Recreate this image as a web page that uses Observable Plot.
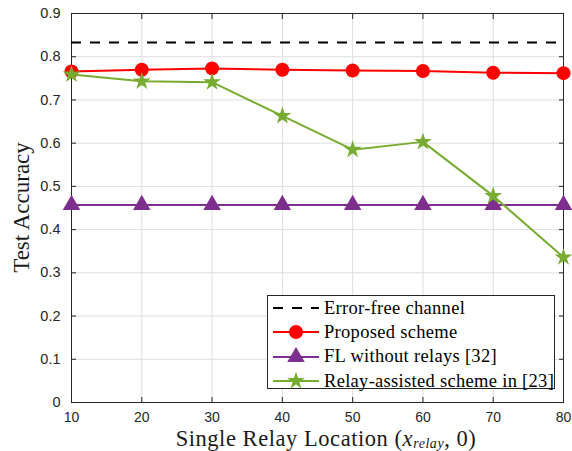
<!DOCTYPE html>
<html><head><meta charset="utf-8">
<script src="https://cdn.jsdelivr.net/npm/d3@7"></script>
<script src="https://cdn.jsdelivr.net/npm/@observablehq/plot@0.6"></script>
<style>
html,body{margin:0;padding:0;background:#fff;}
#wrap{position:relative;width:572px;height:451px;}
#legend{position:absolute;left:267px;top:295px;width:286px;height:92px;border:1px solid #262626;background:#fff;font-family:"Liberation Serif",serif;font-size:18.5px;letter-spacing:0.3px;color:#000;}
.row{position:absolute;left:0;height:24px;display:flex;align-items:center;white-space:nowrap;}
.row svg{display:block;margin-right:4px;}
</style></head><body><div id="wrap"></div>
<script>
// ---- data ----
const xRelay = [10, 20, 30, 40, 50, 60, 70, 80];
const errorFree = 0.833;
const proposed = [0.766, 0.770, 0.773, 0.770, 0.768, 0.767, 0.763, 0.762];
const withoutRelays = [0.457, 0.457, 0.457, 0.457, 0.457, 0.457, 0.457, 0.457];
const relayAssisted = [0.759, 0.743, 0.741, 0.663, 0.585, 0.603, 0.478, 0.336];
const xTicks = [10, 20, 30, 40, 50, 60, 70, 80];
const yTicks = [0, 0.1, 0.2, 0.3, 0.4, 0.5, 0.6, 0.7, 0.8, 0.9];
const seriesNames = ["Error-free channel", "Proposed scheme", "FL without relays [32]", "Relay-assisted scheme in [23]"];
const seriesColors = ["#000000", "#FF0000", "#7E2F8E", "#77AC30"];
const seriesSymbols = [null, "circle", "triangle", "star"];
const symbolR = [0, 7, 6.5, 5.6];
const yLabel = "Test Accuracy";

const rows = (vals) => xRelay.map((x, i) => ({x, y: vals[i]}));
const dataP = rows(proposed), dataW = rows(withoutRelays), dataR = rows(relayAssisted);

const fmt = d => d === 0 ? "0" : d.toFixed(1);

const plot = Plot.plot({
  width: 572, height: 451,
  marginLeft: 71, marginRight: 9, marginTop: 13, marginBottom: 49,
  style: {fontFamily: "'Liberation Sans', Arial, sans-serif", fontSize: "14px", color: "#262626", background: "#fff"},
  x: {domain: [10, 80], ticks: xTicks, label: null},
  y: {domain: [0, 0.9], ticks: yTicks, label: null},
  marks: [
    Plot.gridX(xTicks, {stroke: "#dedede", strokeOpacity: 1, strokeWidth: 1}),
    Plot.gridY(yTicks, {stroke: "#dedede", strokeOpacity: 1, strokeWidth: 1}),
    Plot.axisX(xTicks, {anchor: "bottom", tickSize: -5, tickPadding: 15, tickFormat: d => String(d), label: null, stroke: "#262626"}),
    Plot.axisX(xTicks, {anchor: "top", tickSize: -5, tickFormat: () => "", label: null, stroke: "#262626"}),
    Plot.axisY(yTicks, {anchor: "left", tickSize: -5, tickPadding: 16, tickFormat: fmt, label: null, stroke: "#262626", fontSize: "14.5px"}),
    Plot.axisY(yTicks, {anchor: "right", tickSize: -5, tickFormat: () => "", label: null, stroke: "#262626"}),
    Plot.frame({stroke: "#262626", strokeWidth: 1}),
    Plot.ruleY([errorFree], {stroke: seriesColors[0], strokeWidth: 2, strokeDasharray: "10,9"}),
    Plot.line(dataP, {x: "x", y: "y", stroke: seriesColors[1], strokeWidth: 2}),
    Plot.dot(dataP, {x: "x", y: "y", r: symbolR[1], fill: seriesColors[1], symbol: seriesSymbols[1]}),
    Plot.line(dataW, {x: "x", y: "y", stroke: seriesColors[2], strokeWidth: 2}),
    Plot.dot(dataW, {x: "x", y: "y", r: symbolR[2], fill: seriesColors[2], symbol: seriesSymbols[2]}),
    Plot.line(dataR, {x: "x", y: "y", stroke: seriesColors[3], strokeWidth: 2}),
    Plot.dot(dataR, {x: "x", y: "y", r: symbolR[3], fill: seriesColors[3], symbol: seriesSymbols[3]})
  ]
});
document.getElementById("wrap").appendChild(plot);

// axis titles
const svg = d3.select(plot);
const xs = plot.scale("x"), ys = plot.scale("y");
const cx = (xs.range[0] + xs.range[1]) / 2 + 9;
const cy = (ys.range[0] + ys.range[1]) / 2;
const xt = svg.append("text").attr("x", cx).attr("y", 446).attr("text-anchor", "middle")
  .attr("fill", "#1a1a1a").style("font-family", "'Liberation Serif', serif").style("font-size", "22.5px").style("letter-spacing", "0.55px");
xt.append("tspan").text("Single Relay Location (");
xt.append("tspan").attr("font-style", "italic").text("x");
xt.append("tspan").attr("font-style", "italic").attr("font-size", "14px").attr("dy", 2).text("relay");
xt.append("tspan").attr("dy", -2).text(", 0)");
svg.append("text").attr("transform", `translate(29,${cy}) rotate(-90)`).attr("text-anchor", "middle")
  .attr("fill", "#1a1a1a").style("font-family", "'Liberation Serif', serif").style("font-size", "23px").text(yLabel);

// legend
const leg = document.createElement("div");
leg.id = "legend";
seriesNames.forEach((name, i) => {
  const row = document.createElement("div");
  row.className = "row";
  row.style.top = (0 + i * 24.4) + "px";
  const s = d3.create("svg").attr("width", 52).attr("height", 24);
  s.append("line").attr("x1", 5).attr("x2", 51).attr("y1", 12).attr("y2", 12)
    .attr("stroke", seriesColors[i]).attr("stroke-width", 2)
    .attr("stroke-dasharray", i === 0 ? "10,9" : null);
  if (seriesSymbols[i]) {
    const sym = {circle: d3.symbolCircle, triangle: d3.symbolTriangle, star: d3.symbolStar}[seriesSymbols[i]];
    s.append("path").attr("d", d3.symbol(sym, Math.PI * symbolR[i] * symbolR[i])())
      .attr("transform", "translate(28,12)").attr("fill", seriesColors[i]);
  }
  row.appendChild(s.node());
  const t = document.createElement("span");
  t.textContent = name;
  row.appendChild(t);
  leg.appendChild(row);
});
document.getElementById("wrap").appendChild(leg);
</script>
</body></html>
